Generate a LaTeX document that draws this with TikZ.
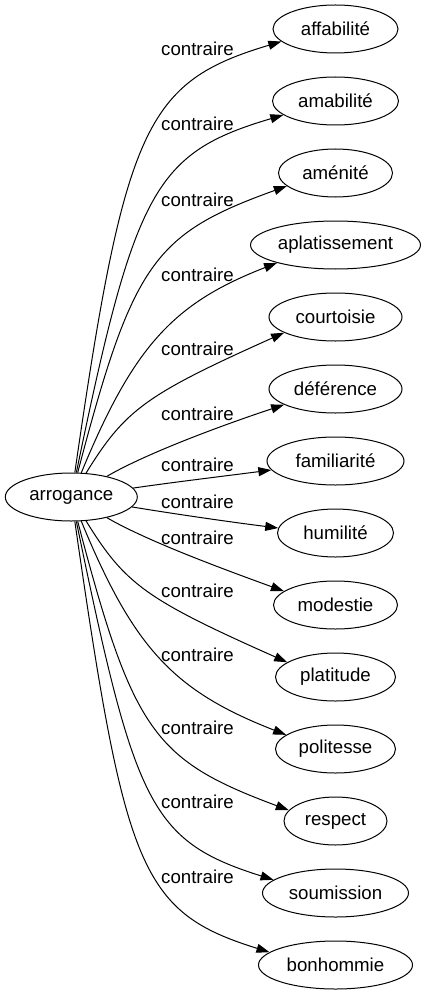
\documentclass[tikz,border=0pt]{standalone}
\usepackage{fontspec}
\setmainfont{Liberation Sans}
\usetikzlibrary{arrows.meta,shapes.geometric}
\begin{document}
\begin{tikzpicture}[x=1pt,y=-1pt,
  every node/.style={font=\fontsize{18.67}{22}\selectfont},
  term/.style={ellipse, draw, line width=1pt, minimum height=48pt, inner sep=0pt},
  lbl/.style={anchor=base west, inner sep=0pt},
  conn/.style={line width=1pt, -{Triangle[length=13pt,width=9pt]}}]
\useasboundingbox (0,0) rectangle (426,995);
\node[term, minimum width=132pt] (arrogance) at (71.3,497) {arrogance};
\node[term, minimum width=125pt] (affabilite) at (335.5,29) {affabilité};
\node[term, minimum width=126pt] (amabilite) at (335.5,101) {amabilité};
\node[term, minimum width=114pt] (amenite) at (335.5,173) {aménité};
\node[term, minimum width=170pt] (aplatissement) at (335.5,245) {aplatissement};
\node[term, minimum width=133pt] (courtoisie) at (335.5,317) {courtoisie};
\node[term, minimum width=133pt] (deference) at (335.5,389) {déférence};
\node[term, minimum width=137pt] (familiarite) at (335.5,461) {familiarité};
\node[term, minimum width=116pt] (humilite) at (335.5,533) {humilité};
\node[term, minimum width=124pt] (modestie) at (335.5,605) {modestie};
\node[term, minimum width=120pt] (platitude) at (335.5,677) {platitude};
\node[term, minimum width=120pt] (politesse) at (335.5,749) {politesse};
\node[term, minimum width=103pt] (respect) at (335.5,821) {respect};
\node[term, minimum width=146pt] (soumission) at (335.5,893) {soumission};
\node[term, minimum width=154pt] (bonhommie) at (335.5,965) {bonhommie};

\node[lbl] (l1) at (161,55.5) {contraire};
\node[lbl] (l2) at (161,131) {contraire};
\node[lbl] (l3) at (161,206) {contraire};
\node[lbl] (l4) at (161,281) {contraire};
\node[lbl] (l5) at (161,355) {contraire};
\node[lbl] (l6) at (161,420) {contraire};
\node[lbl] (l7) at (161,471.5) {contraire};
\node[lbl] (l8) at (161,508) {contraire};
\node[lbl] (l9) at (161,544) {contraire};
\node[lbl] (l10) at (161,597) {contraire};
\node[lbl] (l11) at (161,661) {contraire};
\node[lbl] (l12) at (161,734) {contraire};
\node[lbl] (l13) at (161,808) {contraire};
\node[lbl] (l14) at (161,883) {contraire};

\draw[conn] (arrogance) .. controls (125,125) and (146,82) .. (affabilite.193);
\draw[conn] (arrogance) .. controls (135,189) and (155,153) .. (amabilite.195);
\draw[conn] (arrogance) .. controls (133,262) and (154,234) .. (amenite.195);
\draw[conn] (arrogance) .. controls (134,345) and (174,303) .. (aplatissement.197);
\draw[conn] (arrogance) .. controls (125,410) and (145,395) .. (courtoisie.197);
\draw[conn] (arrogance) .. controls (147,453) and (223,425) .. (deference.197);
\draw[conn] (arrogance) .. controls (175,482) and (225,476) .. (familiarite.188);
\draw[conn] (arrogance) .. controls (175,514) and (230,522) .. (humilite.175);
\draw[conn] (arrogance) .. controls (147,541) and (223,569) .. (modestie.165);
\draw[conn] (arrogance) .. controls (125,584) and (145,599) .. (platitude.163);
\draw[conn] (arrogance) .. controls (134,649) and (174,691) .. (politesse.164);
\draw[conn] (arrogance) .. controls (133,732) and (154,760) .. (respect.167);
\draw[conn] (arrogance) .. controls (135,805) and (150,841) .. (soumission.168);
\draw[conn] (arrogance) .. controls (125,869) and (140,912) .. (bonhommie.169);
\end{tikzpicture}
\end{document}
